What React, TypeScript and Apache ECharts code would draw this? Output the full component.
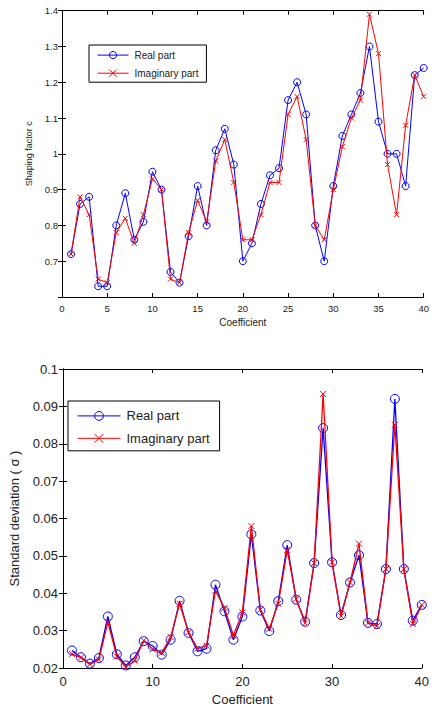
import React, { useEffect, useRef } from "react";
import * as echarts from "echarts";

const coefficients = [1,2,3,4,5,6,7,8,9,10,11,12,13,14,15,16,17,18,19,20,21,22,23,24,25,26,27,28,29,30,31,32,33,34,35,36,37,38,39,40];

const shapingReal = [0.72,0.86,0.88,0.63,0.63,0.80,0.89,0.76,0.81,0.95,0.90,0.67,0.64,0.77,0.91,0.80,1.01,1.07,0.97,0.70,0.75,0.86,0.94,0.96,1.15,1.20,1.11,0.80,0.70,0.91,1.05,1.11,1.17,1.30,1.09,1.00,1.00,0.91,1.22,1.24];
const shapingImag = [0.72,0.88,0.83,0.65,0.64,0.78,0.82,0.75,0.83,0.93,0.90,0.65,0.64,0.78,0.87,0.81,0.98,1.04,0.92,0.76,0.76,0.83,0.92,0.92,1.11,1.16,1.04,0.80,0.76,0.90,1.02,1.10,1.15,1.39,1.28,0.97,0.83,1.08,1.22,1.16];

const sigmaReal = [0.0247,0.0229,0.0212,0.0227,0.0338,0.0237,0.0207,0.0229,0.0272,0.0259,0.0236,0.0276,0.0380,0.0294,0.0245,0.0252,0.0423,0.0352,0.0276,0.0338,0.0558,0.0354,0.0299,0.0379,0.0529,0.0383,0.0324,0.0481,0.0842,0.0483,0.0342,0.0429,0.0502,0.0321,0.0318,0.0465,0.0920,0.0465,0.0327,0.0369];
const sigmaImag = [0.0238,0.0228,0.0210,0.0223,0.0323,0.0231,0.0203,0.0220,0.0274,0.0250,0.0241,0.0283,0.0372,0.0296,0.0252,0.0260,0.0407,0.0361,0.0287,0.0349,0.0580,0.0356,0.0305,0.0372,0.0516,0.0385,0.0320,0.0481,0.0933,0.0483,0.0339,0.0429,0.0533,0.0321,0.0312,0.0465,0.0851,0.0465,0.0318,0.0369];

const seriesNames = ["Real part", "Imaginary part"];
const xTitle = "Coefficient";
const topYTitle = "Shaping factor c";
const bottomYTitle = "Standard deviation ( σ )";

const FONT = "'Liberation Sans', Arial, sans-serif";
const TXT = "#222";
const BLUE = "#0000ff";
const RED = "#ff0000";
const CROSS = "path://M0,0L10,10M10,0L0,10";

function makeOption(cfg: any) {
  const fs = cfg.fontSize;
  const axisLine = { show: true, lineStyle: { color: "#000", width: 1 } };
  const tick = { show: true, inside: true, length: 4, lineStyle: { color: "#000", width: 1 } };
  const mkSeries = (name: string, vals: number[], isReal: boolean) => ({
    name,
    type: "line",
    xAxisIndex: 0,
    yAxisIndex: 0,
    data: coefficients.map((c, i) => [c, vals[i]]),
    symbol: isReal ? "circle" : CROSS,
    symbolSize: isReal ? cfg.circleSize : cfg.crossSize,
    showSymbol: true,
    lineStyle: { color: isReal ? BLUE : RED, width: cfg.lineWidth },
    itemStyle: isReal
      ? { color: "none", borderColor: BLUE, borderWidth: 1 }
      : { color: RED, borderColor: RED, borderWidth: 1 },
    emphasis: { disabled: true },
    z: isReal ? 2 : 3,
  });
  return {
    animation: false,
    textStyle: { fontFamily: FONT },
    legend: {
      left: cfg.legendLeft,
      top: cfg.legendTop,
      orient: "vertical",
      data: seriesNames,
      selectedMode: false,
      backgroundColor: "#fff",
      borderColor: "#000",
      borderWidth: 1,
      borderRadius: 0,
      padding: cfg.legendPadding,
      itemWidth: cfg.legendItemWidth,
      itemHeight: cfg.legendItemHeight,
      itemGap: cfg.legendGap,
      lineStyle: { width: 1 },
      itemStyle: { borderWidth: 1 },
      textStyle: { fontSize: cfg.legendFont, color: TXT, fontFamily: FONT, padding: [0, 0, 0, 1] },
    },
    grid: { left: 62, top: cfg.gridTop, width: 365, height: cfg.gridHeight, containLabel: false },
    xAxis: [
      {
        type: "value", position: "bottom", min: 0, max: 40, interval: cfg.xInterval,
        axisLine, axisTick: tick, splitLine: { show: false },
        axisLabel: { fontSize: fs, color: TXT, margin: cfg.xLabelMargin, fontFamily: FONT },
        name: xTitle, nameLocation: "middle", nameGap: cfg.xNameGap,
        nameTextStyle: { fontSize: cfg.xNameFont, color: TXT, fontFamily: FONT },
      },
      {
        type: "value", position: "top", min: 0, max: 40, interval: cfg.xInterval,
        axisLine, axisTick: tick, splitLine: { show: false }, axisLabel: { show: false },
      },
    ],
    yAxis: [
      {
        type: "value", position: "left", min: cfg.yMin, max: cfg.yMax, interval: cfg.yInterval,
        axisLine, axisTick: tick, splitLine: { show: false },
        axisLabel: { fontSize: fs, color: TXT, margin: cfg.yLabelMargin, fontFamily: FONT, formatter: cfg.yFormatter },
        name: cfg.yTitle, nameLocation: "middle", nameGap: cfg.yNameGap,
        nameTextStyle: { fontSize: cfg.yNameFont, color: TXT, fontFamily: FONT },
      },
      {
        type: "value", position: "right", min: cfg.yMin, max: cfg.yMax, interval: cfg.yInterval,
        axisLine, axisTick: tick, splitLine: { show: false }, axisLabel: { show: false },
      },
    ],
    series: [mkSeries(seriesNames[0], cfg.real, true), mkSeries(seriesNames[1], cfg.imag, false)],
  };
}

export default function App() {
  const topRef = useRef<HTMLDivElement>(null);
  const botRef = useRef<HTMLDivElement>(null);
  useEffect(() => {
    const c1 = echarts.init(topRef.current!, undefined, { renderer: "svg" });
    const c2 = echarts.init(botRef.current!, undefined, { renderer: "svg" });
    c1.setOption(makeOption({
      fontSize: 9.5, gridTop: 10.7, gridHeight: 286.3, xInterval: 5,
      yMin: 0.6, yMax: 1.4, yInterval: 0.1,
      yFormatter: (v: number) => (v < 0.65 ? "" : String(Math.round(v * 10) / 10)),
      xLabelMargin: 6, yLabelMargin: 4, xNameGap: 18, xNameFont: 10,
      yTitle: topYTitle, yNameGap: 26, yNameFont: 9,
      real: shapingReal, imag: shapingImag, circleSize: 7, crossSize: 5, lineWidth: 1,
      legendLeft: 89, legendTop: 45, legendPadding: [4, 8, 4, 8], legendItemWidth: 31,
      legendItemHeight: 9, legendGap: 7, legendFont: 10,
    }));
    c2.setOption(makeOption({
      fontSize: 13, gridTop: 29, gridHeight: 300, xInterval: 10,
      yMin: 0.02, yMax: 0.1, yInterval: 0.01,
      yFormatter: (v: number) => String(Math.round(v * 100) / 100),
      xLabelMargin: 7, yLabelMargin: 5, xNameGap: 23, xNameFont: 13,
      yTitle: bottomYTitle, yNameGap: 42, yNameFont: 13,
      real: sigmaReal, imag: sigmaImag, circleSize: 9, crossSize: 6, lineWidth: 1.3,
      legendLeft: 68, legendTop: 61, legendPadding: [8, 10, 6, 9], legendItemWidth: 43,
      legendItemHeight: 11, legendGap: 9, legendFont: 13,
    }));
    return () => { c1.dispose(); c2.dispose(); };
  }, []);
  return (
    <div style={{ position: "fixed", left: 0, top: 0, width: 432, height: 711, background: "#fff" }}>
      <div ref={topRef} style={{ position: "absolute", left: 0, top: 0, width: 432, height: 340 }} />
      <div ref={botRef} style={{ position: "absolute", left: 0, top: 340, width: 432, height: 371 }} />
    </div>
  );
}
